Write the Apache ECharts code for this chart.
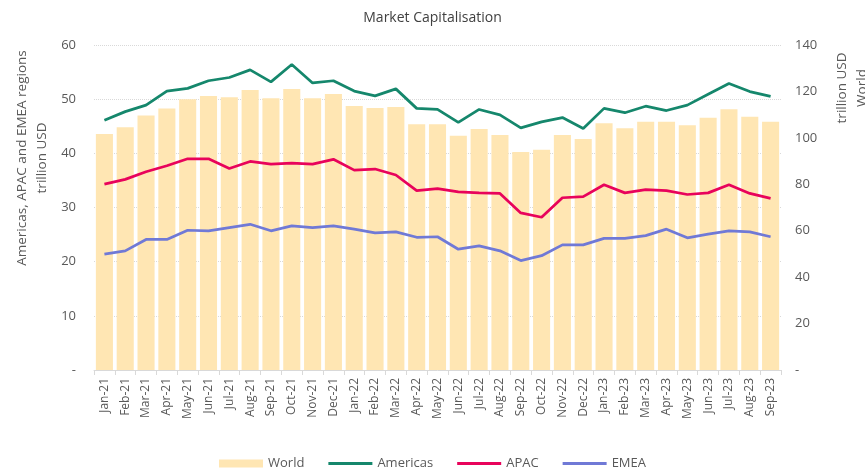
<!DOCTYPE html>
<html>
<head>
<meta charset="utf-8">
<script src="https://cdn.jsdelivr.net/npm/echarts@6/dist/echarts.min.js"></script>
<style>
  html, body { margin: 0; padding: 0; background: #fff; }
  #chart { width: 865px; height: 471px; }
</style>
</head>
<body>
<div id="chart"></div>
<script>
const months = ['Jan-21','Feb-21','Mar-21','Apr-21','May-21','Jun-21','Jul-21','Aug-21','Sep-21','Oct-21','Nov-21','Dec-21',
  'Jan-22','Feb-22','Mar-22','Apr-22','May-22','Jun-22','Jul-22','Aug-22','Sep-22','Oct-22','Nov-22','Dec-22',
  'Jan-23','Feb-23','Mar-23','Apr-23','May-23','Jun-23','Jul-23','Aug-23','Sep-23'];

// trillion USD, right axis
const world = [101.7,104.6,109.6,112.7,116.6,118.0,117.5,120.6,117.1,121.1,117.1,118.9,
  113.7,112.9,113.3,105.9,105.9,100.9,103.8,101.2,93.9,94.9,101.2,99.5,
  106.3,104.1,106.9,106.9,105.4,108.7,112.3,109.1,106.9];

// trillion USD, left axis
const americas = [46.1,47.7,48.9,51.5,52.0,53.4,54.0,55.4,53.2,56.4,53.0,53.4,
  51.5,50.6,51.9,48.3,48.1,45.7,48.1,47.1,44.7,45.8,46.6,44.6,
  48.3,47.5,48.7,47.9,48.9,50.9,52.9,51.4,50.5];
const apac = [34.3,35.2,36.6,37.7,39.0,39.0,37.2,38.5,38.0,38.2,38.0,38.9,
  36.9,37.1,36.0,33.1,33.5,32.9,32.7,32.6,29.0,28.2,31.8,32.0,
  34.2,32.7,33.3,33.1,32.4,32.7,34.2,32.6,31.7];
const emea = [21.4,22.0,24.1,24.1,25.8,25.7,26.3,26.9,25.7,26.6,26.3,26.6,
  26.0,25.3,25.5,24.5,24.6,22.3,22.9,22.0,20.2,21.1,23.1,23.1,
  24.3,24.3,24.8,26.0,24.4,25.1,25.7,25.5,24.6];

const font = 'Open Sans';
const txt = '#595959';
const lineIcon = 'path://M0,0L44,0L44,3L0,3Z';

const chart = echarts.init(document.getElementById('chart'));

const dashZero = v => (v === 0 ? '-' : String(v));

chart.setOption({
  animation: false,
  textStyle: { fontFamily: font },
  title: {
    text: 'Market Capitalisation',
    left: 'center',
    top: 6,
    textStyle: { fontFamily: font, fontSize: 14, fontWeight: 'normal', color: '#404040' }
  },
  grid: { left: 94, right: 84, top: 45, bottom: 101 },
  legend: {
    top: 452,
    left: 'center',
    itemWidth: 44,
    itemHeight: 8,
    itemGap: 24,
    textStyle: { fontFamily: font, fontSize: 13, color: txt },
    data: [
      { name: 'World', icon: 'rect' },
      { name: 'Americas', icon: lineIcon },
      { name: 'APAC', icon: lineIcon },
      { name: 'EMEA', icon: lineIcon }
    ]
  },
  xAxis: {
    type: 'category',
    data: months,
    axisLine: { lineStyle: { color: '#d9d9d9', width: 1 } },
    axisTick: { show: true, length: 5, lineStyle: { color: '#d9d9d9' } },
    axisLabel: { rotate: 90, interval: 0, color: txt, fontSize: 12, fontFamily: font, margin: 8 }
  },
  yAxis: [
    {
      type: 'value', min: 0, max: 60, interval: 10,
      axisLine: { show: false }, axisTick: { show: false },
      axisLabel: { color: txt, fontSize: 13, fontFamily: font, margin: 18, formatter: dashZero },
      splitLine: { lineStyle: { color: '#d9d9d9', type: 'dotted' } }
    },
    {
      type: 'value', min: 0, max: 140, interval: 20,
      axisLine: { show: false }, axisTick: { show: false },
      axisLabel: { color: txt, fontSize: 13, fontFamily: font, margin: 14, formatter: dashZero },
      splitLine: { show: false }
    }
  ],
  graphic: [
    {
      type: 'text', x: 22, y: 158, rotation: Math.PI / 2,
      style: { text: 'Americas, APAC and EMEA regions', fill: txt, font: '13.5px "Open Sans"', align: 'center', verticalAlign: 'middle' }
    },
    {
      type: 'text', x: 42, y: 158, rotation: Math.PI / 2,
      style: { text: 'trillion USD', fill: txt, font: '13.5px "Open Sans"', align: 'center', verticalAlign: 'middle' }
    },
    {
      type: 'text', x: 842, y: 88, rotation: Math.PI / 2,
      style: { text: 'trillion USD', fill: txt, font: '13.5px "Open Sans"', align: 'center', verticalAlign: 'middle' }
    },
    {
      type: 'text', x: 862, y: 88, rotation: Math.PI / 2,
      style: { text: 'World', fill: txt, font: '13.5px "Open Sans"', align: 'center', verticalAlign: 'middle' }
    }
  ],
  series: [
    {
      name: 'World', type: 'bar', yAxisIndex: 1, data: world,
      barCategoryGap: '18%',
      itemStyle: { color: '#FFE6B3' }
    },
    {
      name: 'Americas', type: 'line', data: americas, symbol: 'none',
      lineStyle: { color: '#15876C', width: 2.75 }, itemStyle: { color: '#15876C' }
    },
    {
      name: 'APAC', type: 'line', data: apac, symbol: 'none',
      lineStyle: { color: '#E8035B', width: 2.75 }, itemStyle: { color: '#E8035B' }
    },
    {
      name: 'EMEA', type: 'line', data: emea, symbol: 'none',
      lineStyle: { color: '#7079D6', width: 2.75 }, itemStyle: { color: '#7079D6' }
    }
  ]
});
</script>
</body>
</html>
